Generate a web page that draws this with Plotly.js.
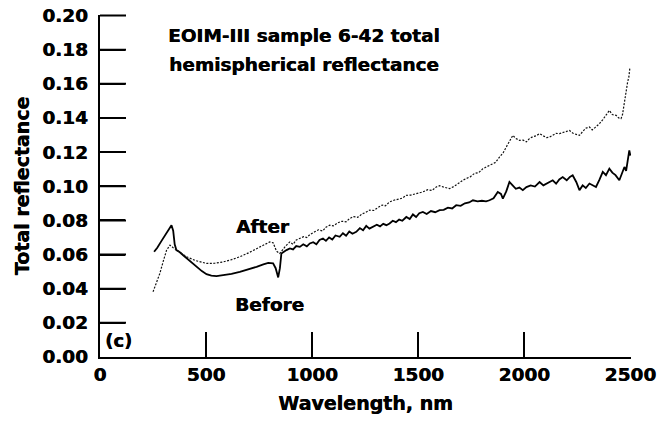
<!DOCTYPE html>
<html>
<head>
<meta charset="utf-8">
<script src="https://cdn.plot.ly/plotly-3.0.1.min.js"></script>
<style>html,body{margin:0;padding:0;background:#fff}#chart{width:660px;height:427px}</style>
</head>
<body>
<div id="chart"></div>
<script>
// "Before" (solid) spectrum
const beforeWl = [255,270,290,310,325,337,345,352,360,375,392,420,455,480,502,525,549,580,620,659,700,738,770,793,816,828,840,848,855,865,879,895,910,925,942,958,975,989,1005,1020,1035,1051,1065,1080,1095,1110,1130,1145,1160,1175,1190,1208,1225,1240,1255,1270,1287,1305,1320,1335,1350,1365,1380,1395,1410,1425,1444,1460,1475,1490,1505,1522,1540,1560,1580,1601,1620,1640,1660,1679,1700,1720,1740,1758,1780,1800,1820,1836,1855,1875,1890,1899,1915,1930,1945,1960,1977,1993,2010,2030,2050,2072,2090,2110,2134,2150,2165,2181,2200,2215,2228,2245,2260,2275,2290,2307,2322,2338,2355,2370,2385,2401,2415,2430,2448,2460,2472,2480,2488,2495,2500];
const beforeR = [0.0616,0.064,0.068,0.072,0.0755,0.0772,0.074,0.066,0.0626,0.0615,0.0596,0.0565,0.0528,0.0503,0.0485,0.0477,0.0474,0.0478,0.0487,0.0499,0.0512,0.0528,0.0542,0.0551,0.0548,0.052,0.0466,0.052,0.0606,0.0615,0.0626,0.0636,0.063,0.065,0.0645,0.066,0.0648,0.0665,0.0672,0.066,0.0685,0.0694,0.068,0.070,0.0688,0.0712,0.0704,0.0725,0.071,0.0735,0.0722,0.0733,0.0755,0.0742,0.0768,0.0752,0.0762,0.0775,0.0765,0.078,0.0772,0.0782,0.0798,0.079,0.0805,0.0798,0.082,0.0808,0.0835,0.082,0.0842,0.085,0.0838,0.0855,0.0848,0.086,0.0862,0.0875,0.087,0.0889,0.0885,0.090,0.0905,0.0918,0.0912,0.0915,0.0912,0.0918,0.093,0.0967,0.0955,0.0928,0.097,0.1025,0.1005,0.0985,0.0992,0.0977,0.0995,0.1005,0.0998,0.1025,0.1005,0.102,0.1035,0.1015,0.104,0.1054,0.1035,0.1055,0.1064,0.1025,0.0977,0.1005,0.099,0.1016,0.1005,0.0996,0.104,0.1084,0.1065,0.1103,0.108,0.1065,0.1035,0.108,0.1113,0.109,0.115,0.121,0.118];

// "After" (dotted) spectrum
const afterWl = [250,266,282,298,314,322,330,345,361,385,408,450,502,540,581,620,659,700,738,770,800,816,832,847,860,875,895,910,925,942,960,975,990,1012,1030,1050,1065,1083,1100,1120,1140,1160,1177,1195,1215,1235,1250,1271,1290,1310,1330,1345,1365,1385,1405,1425,1444,1465,1485,1505,1522,1545,1565,1585,1601,1620,1648,1670,1695,1710,1726,1745,1765,1785,1805,1825,1845,1865,1883,1900,1915,1930,1946,1960,1977,1995,2010,2024,2040,2055,2072,2090,2105,2119,2135,2150,2166,2180,2195,2213,2230,2245,2260,2275,2290,2307,2320,2335,2354,2370,2385,2393,2401,2415,2433,2445,2456,2463,2470,2479,2487,2493,2498];
const afterR = [0.0382,0.043,0.0489,0.056,0.0626,0.064,0.0655,0.064,0.0626,0.0605,0.0587,0.0565,0.0548,0.0549,0.0557,0.057,0.0587,0.061,0.0636,0.0655,0.0674,0.0669,0.062,0.0606,0.063,0.065,0.0674,0.066,0.0685,0.0694,0.0705,0.070,0.0718,0.0733,0.0745,0.0738,0.076,0.0772,0.0768,0.0785,0.0795,0.0792,0.0811,0.0822,0.0818,0.0838,0.0845,0.086,0.0858,0.0875,0.089,0.0885,0.0908,0.0918,0.0925,0.093,0.0947,0.0948,0.0955,0.0962,0.0967,0.098,0.0975,0.0996,0.1003,0.0995,0.0986,0.100,0.1025,0.1035,0.1045,0.1055,0.1075,0.108,0.1103,0.1115,0.1125,0.114,0.1171,0.1195,0.123,0.126,0.1298,0.128,0.1269,0.127,0.126,0.1279,0.129,0.1295,0.1308,0.1295,0.1285,0.1288,0.130,0.131,0.1308,0.1315,0.132,0.1327,0.131,0.1305,0.1298,0.132,0.134,0.1347,0.133,0.1345,0.1366,0.139,0.1415,0.1435,0.1444,0.142,0.1415,0.140,0.1396,0.142,0.148,0.156,0.161,0.164,0.1698];

const xTicks = [0,500,1000,1500,2000,2500];
const xTickText = ['0','500','1000','1500','2000','2500'];
const yTicks = [0,0.02,0.04,0.06,0.08,0.10,0.12,0.14,0.16,0.18,0.20];
const yTickText = ['0.00','0.02','0.04','0.06','0.08','0.10','0.12','0.14','0.16','0.18','0.20'];

const titleLines = ['EOIM-III sample 6-42 total','hemispherical reflectance'];
const seriesLabels = ['After','Before'];
const panelLabel = '(c)';

function F(size){
  return {family:'DejaVu Sans, Liberation Sans, Arial, sans-serif', color:'#000', weight:'bold', size:size,
          shadow:'0.45px 0 0 #000'};
}

const traces = [
  {x: beforeWl, y: beforeR, type:'scatter', mode:'lines', line:{color:'#000', width:1.8}},
  {x: afterWl, y: afterR, type:'scatter', mode:'lines', line:{color:'#111', width:1.2, dash:'2px,1.5px'}}
];

// inward y tick marks drawn as arrow-only annotations anchored on the y scale
const yTickMarks = yTicks.filter(v => v > 0).map(v => ({
  x:0, y:v, xref:'x', yref:'y', text:'\u200b', font:{size:1, color:'rgba(0,0,0,0)'},
  showarrow:true, arrowhead:0, arrowwidth:2, arrowcolor:'#000',
  axref:'pixel', ayref:'pixel', ax:26, ay:0, standoff:0, startstandoff:0,
  borderpad:0, xanchor:'left'
}));

const layout = {
  width:660, height:427,
  margin:{l:100, r:29, t:15, b:70},
  showlegend:false,
  xaxis:{
    range:[0,2503], tickvals:xTicks, ticktext:xTickText,
    ticks:'inside', ticklen:25, tickwidth:2, tickcolor:'#000',
    showline:true, linewidth:2, linecolor:'#000',
    showgrid:false, zeroline:false,
    tickfont: F(18.5),
    title:{text:'Wavelength, nm', font:F(19), standoff:12}
  },
  yaxis:{
    range:[0,0.2003], tickvals:yTicks, ticktext:yTickText.map(t => t + '\u00a0'),
    ticks:'inside', ticklen:25, tickwidth:2, tickcolor:'#000',
    showline:true, linewidth:2, linecolor:'#000',
    showgrid:false, zeroline:false,
    tickfont: F(18.5),
    title:{text:'Total reflectance', font:F(19), standoff:8}
  },
  annotations:[
    {x:960, y:0.1883, xref:'x', yref:'y', text:titleLines[0], showarrow:false, font:F(18.5), xanchor:'center', yanchor:'middle'},
    {x:960, y:0.1713, xref:'x', yref:'y', text:titleLines[1], showarrow:false, font:F(18.5), xanchor:'center', yanchor:'middle'},
    {x:767, y:0.0766, xref:'x', yref:'y', text:seriesLabels[0], showarrow:false, font:F(18.5), xanchor:'center', yanchor:'middle'},
    {x:800, y:0.031, xref:'x', yref:'y', text:seriesLabels[1], showarrow:false, font:F(18.5), xanchor:'center', yanchor:'middle'},
    {x:85, y:0.0094, xref:'x', yref:'y', text:panelLabel, showarrow:false, font:F(18), xanchor:'center', yanchor:'middle'}
  ].concat(yTickMarks)
};

Plotly.newPlot('chart', traces, layout, {staticPlot:true});
</script>
</body>
</html>
